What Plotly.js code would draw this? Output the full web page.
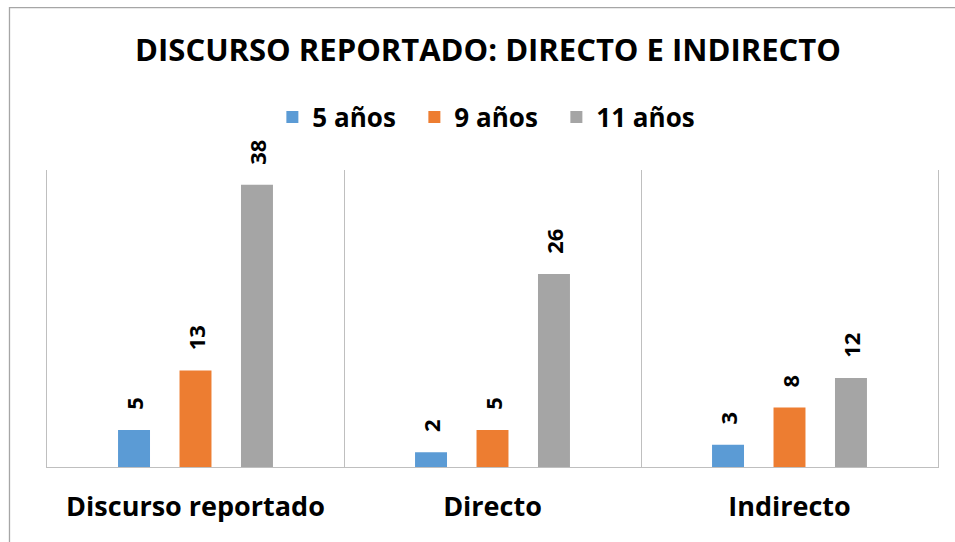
<!DOCTYPE html>
<html>
<head>
<meta charset="utf-8">
<script src="https://cdn.plot.ly/plotly-3.0.1.min.js"></script>
<style>
html, body { margin: 0; padding: 0; background: #fff; }
#chart { width: 955px; height: 542px; }
</style>
</head>
<body>
<div id="chart"></div>
<script>
const categories = ["Discurso reportado", "Directo", "Indirecto"];
const seriesNames = ["5 años", "9 años", "11 años"];
const values5 = [5, 2, 3];
const values9 = [13, 5, 8];
const values11 = [38, 26, 12];
const seriesColors = ["#5B9BD5", "#ED7D31", "#A5A5A5"];

const FONT = "Open Sans, Noto Sans, sans-serif";
const allValues = [values5, values9, values11];

const traces = allValues.map((vals, i) => ({
  type: "bar",
  name: seriesNames[i],
  x: categories,
  y: vals,
  marker: { color: seriesColors[i], line: { width: 0 } },
  text: vals.map(String),
  texttemplate: "\u00a0\u00a0\u00a0%{text}",
  textposition: "outside",
  textangle: -90,
  constraintext: "none",
  cliponaxis: false,
  textfont: { family: FONT, size: 22, color: "#000", weight: "bold" },
  hoverinfo: "skip"
}));

const layout = {
  width: 955,
  height: 542,
  margin: { l: 47, r: 17, t: 170, b: 75 },
  paper_bgcolor: "#fff",
  plot_bgcolor: "#fff",
  font: { family: FONT, color: "#000" },
  title: {
    text: "<b>DISCURSO REPORTADO: DIRECTO E INDIRECTO</b>",
    font: { family: FONT, size: 31, color: "#000" },
    x: 0.511, xanchor: "center",
    y: 0.908, yanchor: "middle"
  },
  showlegend: true,
  legend: {
    orientation: "h",
    x: 0.492, xanchor: "center",
    y: 1.178, yanchor: "middle",
    font: { family: FONT, size: 26, color: "#000", weight: "bold" },
    itemwidth: 30,
    entrywidth: 97,
    traceorder: "normal"
  },
  barmode: "group",
  bargap: 0.379,
  bargroupgap: 0.48,
  xaxis: {
    type: "category",
    tickson: "boundaries",
    showgrid: true,
    gridcolor: "#BFBFBF",
    gridwidth: 1,
    showline: true,
    linecolor: "#BFBFBF",
    linewidth: 1,
    ticks: "",
    ticklabelstandoff: 16,
    tickfont: { family: FONT, size: 27, color: "#000", weight: "bold" },
    fixedrange: true
  },
  yaxis: {
    range: [0, 40],
    showgrid: false,
    zeroline: false,
    showline: true,
    mirror: true,
    linecolor: "#BFBFBF",
    linewidth: 1,
    showticklabels: false,
    ticks: "",
    fixedrange: true
  },
  shapes: [
    {
      type: "rect", xref: "paper", yref: "paper",
      x0: -0.0421, x1: 1.2, y0: -0.4, y1: 1.547,
      line: { color: "#A6A6A6", width: 1.3 },
      fillcolor: "rgba(0,0,0,0)",
      layer: "above"
    }
  ]
};

Plotly.newPlot("chart", traces, layout, { displayModeBar: false, staticPlot: true });
</script>
</body>
</html>
